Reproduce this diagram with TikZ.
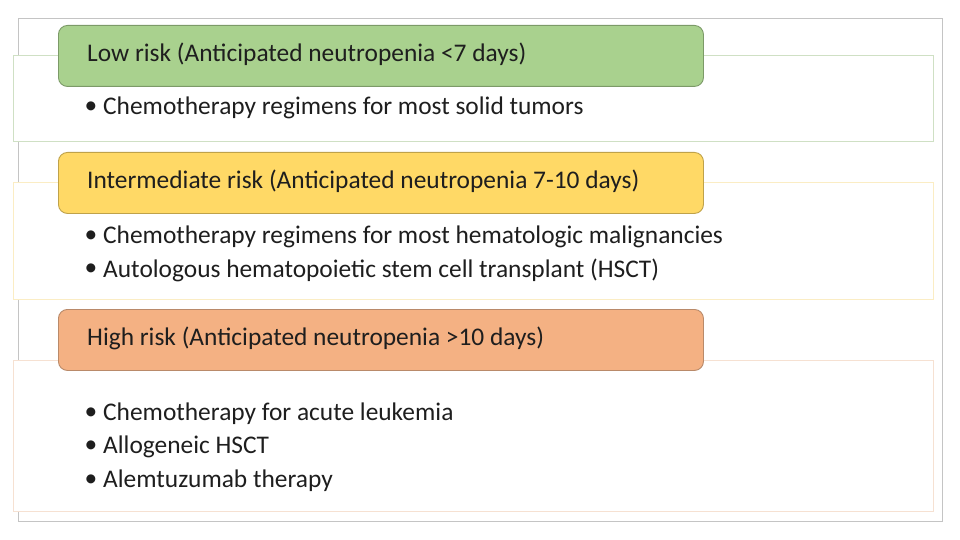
\documentclass[tikz,border=0pt]{standalone}
\usepackage{fontspec}
\setmainfont{Carlito}
\definecolor{txt}{HTML}{1E1E1E}
\definecolor{outerc}{HTML}{C4C4C4}
\definecolor{greenf}{HTML}{A9D18E}
\definecolor{greend}{HTML}{7C9A68}
\definecolor{greenl}{HTML}{CFE0C4}
\definecolor{yellowf}{HTML}{FFD966}
\definecolor{yellowd}{HTML}{BFA24A}
\definecolor{yellowl}{HTML}{FBEDC4}
\definecolor{orangef}{HTML}{F4B183}
\definecolor{oranged}{HTML}{B98A6A}
\definecolor{orangel}{HTML}{F6E1D2}
\tikzset{
  panel/.style={draw=#1, line width=1pt, fill=white, anchor=north west, inner sep=0pt, minimum width=920pt},
  header/.style={draw=#1, line width=0.9pt, rounded corners=9pt, anchor=north west, inner sep=0pt, minimum width=645pt, minimum height=61pt},
  htext/.style={anchor=west, inner sep=0pt, text=txt, font=\fontsize{25.4}{30}\selectfont},
  item/.style={anchor=west, inner sep=0pt, text=txt, font=\fontsize{25.4}{30}\selectfont},
  bul/.style={inner sep=0pt, text=txt, font=\fontsize{25.4}{30}\selectfont},
}
\begin{document}
\begin{tikzpicture}[x=1pt,y=-1pt]
\useasboundingbox[fill=white] (0,0) rectangle (960,540);
\node[draw=outerc, line width=1pt, anchor=north west, inner sep=0pt, minimum width=924pt, minimum height=503pt] (outer) at (18,18) {};
% Low risk
\node[panel=greenl, minimum height=86pt] (p1) at (13,55) {};
\node[header=greend, fill=greenf] (h1) at (58,25) {};
\node[htext] (t1) at (87,54) {Low risk (Anticipated neutropenia <7 days)};
\node[bul] (b11) at (91,108) {•};
\node[item] (i11) at (103,108) {Chemotherapy regimens for most solid tumors};
% Intermediate risk
\node[panel=yellowl, minimum height=117pt] (p2) at (13,182) {};
\node[header=yellowd, fill=yellowf] (h2) at (58,152) {};
\node[htext] (t2) at (87,181) {Intermediate risk (Anticipated neutropenia 7-10 days)};
\node[bul] (b21) at (91,237) {•};
\node[item] (i21) at (103,237) {Chemotherapy regimens for most hematologic malignancies};
\node[bul] (b22) at (91,270) {•};
\node[item] (i22) at (103,270) {Autologous hematopoietic stem cell transplant (HSCT)};
% High risk
\node[panel=orangel, minimum height=151pt] (p3) at (13,360) {};
\node[header=oranged, fill=orangef] (h3) at (58,309) {};
\node[htext] (t3) at (87,338) {High risk (Anticipated neutropenia >10 days)};
\node[bul] (b31) at (91,414) {•};
\node[item] (i31) at (103,414) {Chemotherapy for acute leukemia};
\node[bul] (b32) at (91,447) {•};
\node[item] (i32) at (103,447) {Allogeneic HSCT};
\node[bul] (b33) at (91,481) {•};
\node[item] (i33) at (103,481) {Alemtuzumab therapy};
\end{tikzpicture}
\end{document}
